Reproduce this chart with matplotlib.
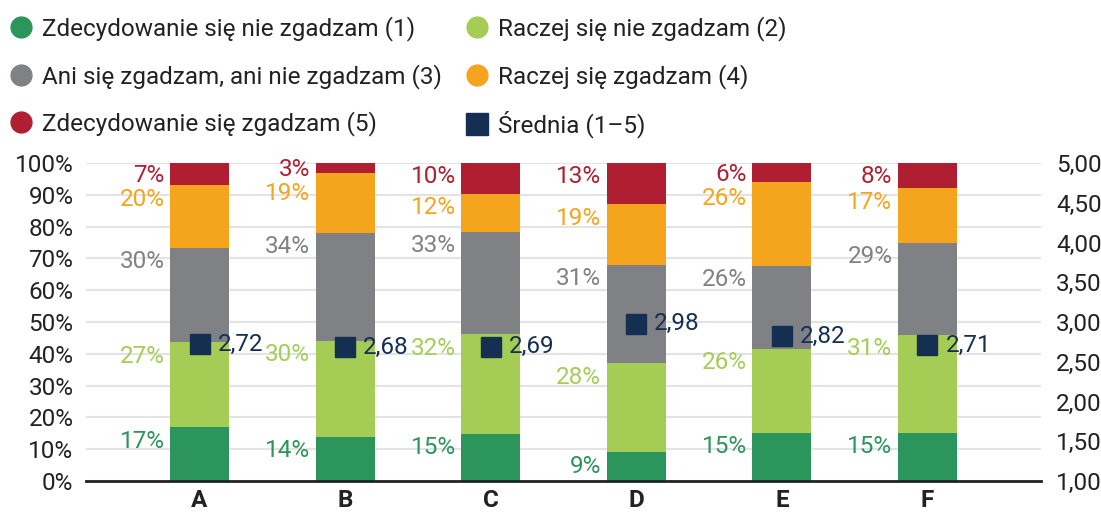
import numpy as np
import matplotlib.pyplot as plt
from matplotlib.lines import Line2D

plt.rcParams['font.family'] = ['Roboto', 'DejaVu Sans']

# data
categories = ['A', 'B', 'C', 'D', 'E', 'F']
series_names = ['Zdecydowanie się nie zgadzam (1)', 'Raczej się nie zgadzam (2)',
                'Ani się zgadzam, ani nie zgadzam (3)', 'Raczej się zgadzam (4)',
                'Zdecydowanie się zgadzam (5)']
s1 = [17, 14, 15, 9, 15, 15]
s2 = [27, 30, 32, 28, 26, 31]
s3 = [30, 34, 33, 31, 26, 29]
s4 = [20, 19, 12, 19, 26, 17]
s5 = [7, 3, 10, 13, 6, 8]
means = [2.72, 2.68, 2.69, 2.98, 2.82, 2.71]
mean_name = 'Średnia (1–5)'

colors = ['#2b955c', '#a5cd55', '#808184', '#f5a51d', '#b01e31']
navy = '#152f53'
text_col = '#222222'
fs = 17.5

vals = np.array([s1, s2, s3, s4, s5], dtype=float)
shares = vals / vals.sum(axis=0) * 100  # bars are drawn to 100%

fig = plt.figure(figsize=(11.01, 5.12), dpi=100)
ax = fig.add_axes([0.0781, 0.0605, 0.8674, 0.6211])
ax2 = ax.twinx()

x = np.arange(len(categories))
tops = np.cumsum(shares, axis=0)
bottoms = tops - shares
for i in range(5):
    ax.bar(x, shares[i], 0.405, bottom=bottoms[i], color=colors[i], zorder=2)

# value labels left of each bar, just under the segment top; spread apart if they collide
gap = 7.4
for j in range(len(categories)):
    ys = list(tops[:, j] - 4.3)
    for _ in range(20):
        for i in range(4, 0, -1):
            d = ys[i] - ys[i - 1]
            if d < gap:
                shift = (gap - d) / 2
                ys[i] += shift
                ys[i - 1] -= shift
    for i in range(5):
        ax.annotate(f'{int(vals[i, j])}%', (x[j] - 0.2025, ys[i]),
                    xytext=(-4, 0), textcoords='offset points',
                    ha='right', va='center', fontsize=fs, color=colors[i])

ax.set_xlim(-0.78, 5.78)
ax.set_ylim(0, 100)
ax.set_yticks(np.arange(0, 101, 10))
ax.set_yticklabels([f'{v}%' for v in range(0, 101, 10)])
ax.set_xticks(x)
ax.set_xticklabels(categories, fontweight='bold')
ax.grid(axis='y', color='#e3e3e3', linewidth=1.5, zorder=0)
ax.set_axisbelow(True)
for s in ['top', 'left', 'right']:
    ax.spines[s].set_visible(False)
ax.spines['bottom'].set_color(text_col)
ax.spines['bottom'].set_linewidth(2)
ax.tick_params(axis='both', length=0, labelsize=fs, colors=text_col)
ax.tick_params(axis='y', pad=9)
ax.tick_params(axis='x', pad=6)

ax2.plot(x, means, 's', color=navy, markersize=14.4, zorder=3)
for j in range(len(categories)):
    ax2.annotate(f'{means[j]:.2f}'.replace('.', ','), (x[j], means[j]),
                 xytext=(13, 0), textcoords='offset points',
                 ha='left', va='center', fontsize=fs, color=navy)
ax2.set_ylim(1, 5)
ax2.set_yticks(np.arange(1, 5.01, 0.5))
ax2.set_yticklabels([f'{v:.2f}'.replace('.', ',') for v in np.arange(1, 5.01, 0.5)])
ax2.tick_params(axis='y', length=0, labelsize=fs, colors=text_col, pad=11)
for s in ['top', 'left', 'right', 'bottom']:
    ax2.spines[s].set_visible(False)

# legend, filled column by column
handles = [Line2D([], [], marker='o', linestyle='', color=c, markersize=15) for c in colors]
handles.append(Line2D([], [], marker='s', linestyle='', color=navy, markersize=15.5))
labels = series_names + [mean_name]
order = [0, 2, 4, 1, 3, 5]
fig.legend([handles[k] for k in order], [labels[k] for k in order],
           ncol=2, loc='upper left', bbox_to_anchor=(0.009, 0.968),
           frameon=False, fontsize=fs, labelcolor=text_col,
           handlelength=0.9, handletextpad=0.42, labelspacing=0.92,
           columnspacing=1.0, borderpad=0, borderaxespad=0)

fig.savefig('out.png', dpi=100)
